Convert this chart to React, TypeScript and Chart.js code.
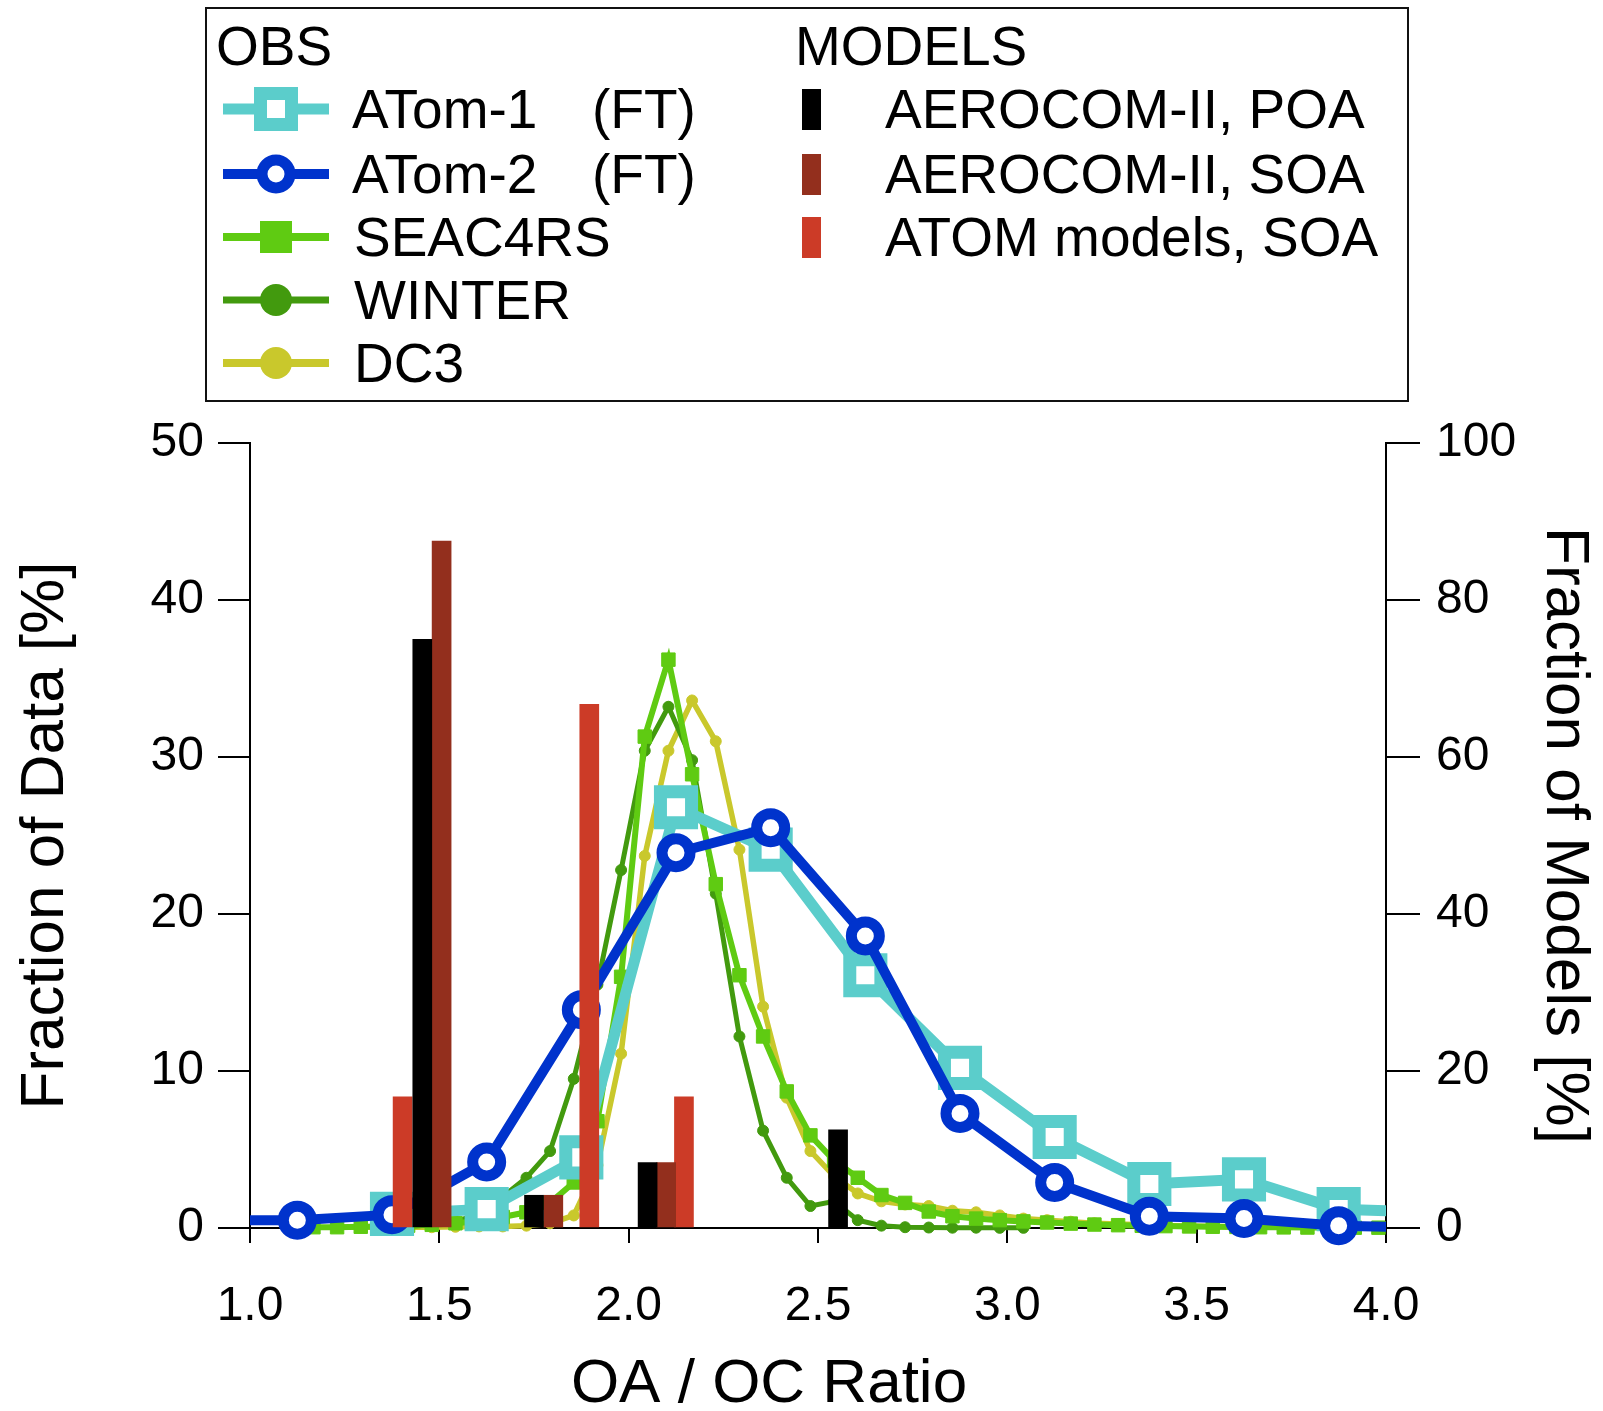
import React, { useEffect, useRef } from "react";
import { Chart, registerables } from "chart.js";

Chart.register(...registerables);

const FONT = '"Liberation Sans", Arial, Helvetica, sans-serif';

// ---- axis tick/label text ----
const X_TITLE = "OA / OC Ratio";
const Y_TITLE = "Fraction of Data [%]";
const Y2_TITLE = "Fraction of Models [%]";

// ---- observations (left axis, % of data) ----
const atom1X = [1.375, 1.625, 1.875, 2.125, 2.375, 2.625, 2.875, 3.125, 3.375, 3.625, 3.875, 4.125];
const atom1Y = [0.9, 1.2, 4.5, 26.8, 24.1, 16.1, 10.2, 5.8, 2.8, 3.1, 1.2, 1.0];

const atom2X = [0.875, 1.125, 1.375, 1.625, 1.875, 2.125, 2.375, 2.625, 2.875, 3.125, 3.375, 3.625, 3.875, 4.125];
const atom2Y = [0.5, 0.5, 0.85, 4.2, 13.9, 23.9, 25.5, 18.6, 7.3, 2.9, 0.75, 0.6, 0.15, 0.0];

const seacX = [1.1675, 1.23, 1.2925, 1.355, 1.4175, 1.48, 1.5425, 1.605, 1.6675, 1.73, 1.7925, 1.855, 1.9175, 1.98, 2.0425, 2.105, 2.1675, 2.23, 2.2925, 2.355, 2.4175, 2.48, 2.5425, 2.605, 2.6675, 2.73, 2.7925, 2.855, 2.9175, 2.98, 3.0425, 3.105, 3.1675, 3.23, 3.2925, 3.355, 3.4175, 3.48, 3.5425, 3.605, 3.6675, 3.73, 3.7925, 3.855, 3.9175, 3.98, 4.0425];
const seacY = [0.05, 0.05, 0.08, 0.1, 0.15, 0.2, 0.3, 0.45, 0.7, 1.0, 1.6, 2.9, 6.8, 16.0, 31.3, 36.2, 28.9, 21.9, 16.1, 12.2, 8.7, 5.9, 4.3, 3.2, 2.1, 1.6, 1.05, 0.75, 0.6, 0.5, 0.42, 0.35, 0.28, 0.22, 0.18, 0.14, 0.12, 0.1, 0.08, 0.07, 0.05, 0.04, 0.03, 0.03, 0.02, 0.02, 0.01];

const winterX = [1.4175, 1.48, 1.5425, 1.605, 1.6675, 1.73, 1.7925, 1.855, 1.9175, 1.98, 2.0425, 2.105, 2.1675, 2.23, 2.2925, 2.355, 2.4175, 2.48, 2.5425, 2.605, 2.6675, 2.73, 2.7925, 2.855, 2.9175, 2.98, 3.0425];
const winterY = [0.1, 0.2, 0.4, 0.9, 2.0, 3.2, 4.9, 9.5, 15.5, 22.8, 30.4, 33.2, 29.8, 21.3, 12.2, 6.2, 3.2, 1.4, 1.7, 0.5, 0.15, 0.05, 0.03, 0.02, 0.02, 0.01, 0.01];

const dc3X = [1.23, 1.2925, 1.355, 1.4175, 1.48, 1.5425, 1.605, 1.6675, 1.73, 1.7925, 1.855, 1.9175, 1.98, 2.0425, 2.105, 2.1675, 2.23, 2.2925, 2.355, 2.4175, 2.48, 2.5425, 2.605, 2.6675, 2.73, 2.7925, 2.855, 2.9175, 2.98, 3.0425, 3.105, 3.1675, 3.23, 3.2925, 3.355, 3.4175, 3.48, 3.5425, 3.605, 3.6675, 3.73, 3.7925, 3.855, 3.9175, 3.98];
const dc3Y = [0.05, 0.05, 0.05, 0.05, 0.05, 0.08, 0.1, 0.1, 0.15, 0.3, 0.8, 4.0, 11.1, 23.7, 30.4, 33.6, 31.0, 24.1, 14.1, 8.3, 4.9, 3.3, 2.2, 1.7, 1.5, 1.4, 1.1, 1.0, 0.8, 0.6, 0.5, 0.4, 0.3, 0.25, 0.2, 0.15, 0.12, 0.1, 0.08, 0.06, 0.05, 0.04, 0.03, 0.02, 0.02];

// ---- models (right axis, % of models) ----
const poaX = [1.455, 1.75, 2.05, 2.553];
const poaY = [75, 4.17, 8.33, 12.5];
const aeroSoaX = [1.506, 1.801, 2.099];
const aeroSoaY = [87.5, 4.17, 8.33];
const atomSoaX = [1.403, 1.896, 2.146];
const atomSoaY = [16.7, 66.7, 16.7];

// ---- colours ----
const C_ATOM1 = "#5BCDCB";
const C_ATOM2 = "#0033CC";
const C_SEAC = "#5FCB12";
const C_WINTER = "#429A0E";
const C_DC3 = "#C9C82C";
const C_POA = "#000000";
const C_AEROSOA = "#932F1D";
const C_ATOMSOA = "#CC3B27";

const pts = (xs: number[], ys: number[]) => xs.map((x, i) => ({ x, y: ys[i] }));

const LINE_CLIP = { left: 0, right: 0, top: 0, bottom: 20 };

const xTitlePlugin = {
  id: "xTitleCustom",
  afterDraw(chart: any) {
    const { ctx, chartArea } = chart;
    ctx.save();
    ctx.font = `62px ${FONT}`;
    ctx.fillStyle = "#000";
    ctx.textAlign = "center";
    ctx.textBaseline = "middle";
    ctx.fillText(X_TITLE, (chartArea.left + chartArea.right) / 2 - 49, 1385);
    ctx.restore();
  },
};

function LegendText({ x, yc, text }: { x: number; yc: number; text: string }) {
  return (
    <div
      style={{
        position: "absolute",
        left: x,
        top: yc - 27,
        fontSize: 55,
        lineHeight: "55px",
        whiteSpace: "nowrap",
        color: "#000",
        fontFamily: FONT,
      }}
    >
      {text}
    </div>
  );
}

function ObsSymbol({ yc, kind }: { yc: number; kind: string }) {
  const w = 106;
  const h = 50;
  const cx = 53;
  const cy = 25;
  let color = C_ATOM1;
  let lw = 11;
  let marker: any = null;
  if (kind === "atom1") {
    color = C_ATOM1;
    lw = 11;
    marker = <rect x={cx - 15.5} y={cy - 15.5} width={31} height={31} fill="#fff" stroke={C_ATOM1} strokeWidth={13} />;
  } else if (kind === "atom2") {
    color = C_ATOM2;
    lw = 10;
    marker = <circle cx={cx} cy={cy} r={14} fill="#fff" stroke={C_ATOM2} strokeWidth={11} />;
  } else if (kind === "seac") {
    color = C_SEAC;
    lw = 8;
    marker = <rect x={cx - 16} y={cy - 16} width={32} height={32} fill={C_SEAC} />;
  } else if (kind === "winter") {
    color = C_WINTER;
    lw = 7;
    marker = <circle cx={cx} cy={cy} r={16} fill={C_WINTER} />;
  } else {
    color = C_DC3;
    lw = 8;
    marker = <circle cx={cx} cy={cy} r={16} fill={C_DC3} />;
  }
  return (
    <svg
      width={w}
      height={h}
      style={{ position: "absolute", left: 223, top: yc - cy, overflow: "visible" }}
    >
      <line x1={0} y1={cy} x2={w} y2={cy} stroke={color} strokeWidth={lw} />
      {marker}
    </svg>
  );
}

function ModelSymbol({ yc, color }: { yc: number; color: string }) {
  return (
    <div
      style={{
        position: "absolute",
        left: 802,
        top: yc - 20.5,
        width: 19,
        height: 41,
        background: color,
      }}
    />
  );
}

function Legend() {
  const rows = [109, 174, 237, 300, 363];
  return (
    <>
      <div
        style={{
          position: "absolute",
          left: 205,
          top: 7,
          width: 1204,
          height: 395,
          border: "2px solid #111",
          boxSizing: "border-box",
          background: "#fff",
        }}
      />
      <LegendText x={216} yc={46} text="OBS" />
      <LegendText x={795} yc={46} text="MODELS" />

      <ObsSymbol yc={rows[0]} kind="atom1" />
      <LegendText x={352} yc={rows[0]} text="ATom-1" />
      <LegendText x={592} yc={rows[0]} text="(FT)" />

      <ObsSymbol yc={rows[1]} kind="atom2" />
      <LegendText x={352} yc={rows[1]} text="ATom-2" />
      <LegendText x={592} yc={rows[1]} text="(FT)" />

      <ObsSymbol yc={rows[2]} kind="seac" />
      <LegendText x={354} yc={rows[2]} text="SEAC4RS" />

      <ObsSymbol yc={rows[3]} kind="winter" />
      <LegendText x={354} yc={rows[3]} text="WINTER" />

      <ObsSymbol yc={rows[4]} kind="dc3" />
      <LegendText x={354} yc={rows[4]} text="DC3" />

      <ModelSymbol yc={rows[0]} color={C_POA} />
      <LegendText x={885} yc={rows[0]} text="AEROCOM-II, POA" />
      <ModelSymbol yc={rows[1]} color={C_AEROSOA} />
      <LegendText x={885} yc={rows[1]} text="AEROCOM-II, SOA" />
      <ModelSymbol yc={rows[2]} color={C_ATOMSOA} />
      <LegendText x={885} yc={rows[2]} text="ATOM models, SOA" />
    </>
  );
}

export default function App() {
  const ref = useRef<HTMLCanvasElement | null>(null);

  useEffect(() => {
    if (!ref.current) return;
    const barCommon = {
      type: "bar" as const,
      yAxisID: "y2",
      xAxisID: "x",
      barThickness: 19,
      grouped: false,
      borderWidth: 0,
      order: 0,
    };
    const chart = new Chart(ref.current, {
      type: "line",
      data: {
        datasets: [
          { ...barCommon, label: "AEROCOM-II, POA", data: pts(poaX, poaY), backgroundColor: C_POA },
          { ...barCommon, label: "AEROCOM-II, SOA", data: pts(aeroSoaX, aeroSoaY), backgroundColor: C_AEROSOA },
          { ...barCommon, label: "ATOM models, SOA", data: pts(atomSoaX, atomSoaY), backgroundColor: C_ATOMSOA },
          {
            type: "line",
            label: "ATom-2 (FT)",
            data: pts(atom2X, atom2Y),
            yAxisID: "y",
            borderColor: C_ATOM2,
            borderWidth: 10,
            pointStyle: "circle",
            pointRadius: 14,
            pointBorderWidth: 11,
            pointBackgroundColor: "#fff",
            pointBorderColor: C_ATOM2,
            tension: 0,
            clip: LINE_CLIP,
            order: 1,
          },
          {
            type: "line",
            label: "ATom-1 (FT)",
            data: pts(atom1X, atom1Y),
            yAxisID: "y",
            borderColor: C_ATOM1,
            borderWidth: 11,
            pointStyle: "rect",
            pointRadius: 22,
            pointBorderWidth: 13,
            pointBackgroundColor: "#fff",
            pointBorderColor: C_ATOM1,
            tension: 0,
            clip: LINE_CLIP,
            order: 2,
          },
          {
            type: "line",
            label: "SEAC4RS",
            data: pts(seacX, seacY),
            yAxisID: "y",
            borderColor: C_SEAC,
            borderWidth: 6,
            pointStyle: "rect",
            pointRadius: 9.5,
            pointBorderWidth: 1,
            pointBackgroundColor: C_SEAC,
            pointBorderColor: C_SEAC,
            tension: 0,
            clip: LINE_CLIP,
            order: 3,
          },
          {
            type: "line",
            label: "WINTER",
            data: pts(winterX, winterY),
            yAxisID: "y",
            borderColor: C_WINTER,
            borderWidth: 5,
            pointStyle: "circle",
            pointRadius: 5.5,
            pointBorderWidth: 1,
            pointBackgroundColor: C_WINTER,
            pointBorderColor: C_WINTER,
            tension: 0,
            clip: LINE_CLIP,
            order: 4,
          },
          {
            type: "line",
            label: "DC3",
            data: pts(dc3X, dc3Y),
            yAxisID: "y",
            borderColor: C_DC3,
            borderWidth: 5.5,
            pointStyle: "circle",
            pointRadius: 5.5,
            pointBorderWidth: 1,
            pointBackgroundColor: C_DC3,
            pointBorderColor: C_DC3,
            tension: 0,
            clip: LINE_CLIP,
            order: 5,
          },
        ] as any,
      },
      options: {
        responsive: false,
        animation: false,
        events: [],
        layout: { padding: { top: 443, left: 0, right: 0, bottom: 0 } },
        plugins: {
          legend: { display: false },
          tooltip: { enabled: false },
        },
        scales: {
          x: {
            type: "linear",
            position: "bottom",
            min: 1,
            max: 4,
            offset: false,
            afterFit: (s: any) => {
              s.height = 183;
            },
            grid: {
              offset: false,
              drawOnChartArea: false,
              drawTicks: true,
              tickLength: 15,
              color: "#000",
              lineWidth: 2,
            },
            border: { display: true, color: "#000", width: 2 },
            ticks: {
              stepSize: 0.5,
              autoSkip: false,
              maxRotation: 0,
              padding: 35,
              color: "#000",
              font: { family: FONT, size: 48 },
              callback: (v: any) => Number(v).toFixed(1),
            },
          },
          y: {
            type: "linear",
            position: "left",
            min: 0,
            max: 50,
            afterFit: (s: any) => {
              s.width = 250;
            },
            grid: {
              drawOnChartArea: false,
              drawTicks: true,
              tickLength: 32,
              color: "#000",
              lineWidth: 2,
            },
            border: { display: true, color: "#000", width: 2 },
            ticks: {
              stepSize: 10,
              padding: 14,
              color: "#000",
              font: { family: FONT, size: 48 },
            },
            title: {
              display: true,
              text: Y_TITLE,
              color: "#000",
              font: { family: FONT, size: 62 },
              padding: { top: 9, bottom: 0 },
            },
          },
          y2: {
            type: "linear",
            position: "right",
            min: 0,
            max: 100,
            beginAtZero: true,
            afterFit: (s: any) => {
              s.width = 217;
            },
            grid: {
              drawOnChartArea: false,
              drawTicks: true,
              tickLength: 34,
              color: "#000",
              lineWidth: 2,
            },
            border: { display: true, color: "#000", width: 2 },
            ticks: {
              stepSize: 20,
              padding: 16,
              color: "#000",
              font: { family: FONT, size: 48 },
            },
            title: {
              display: true,
              text: Y2_TITLE,
              color: "#000",
              font: { family: FONT, size: 62 },
              padding: { top: 2, bottom: 0 },
            },
          },
        },
      } as any,
      plugins: [xTitlePlugin],
    });
    return () => chart.destroy();
  }, []);

  return (
    <div
      style={{
        position: "absolute",
        left: 0,
        top: 0,
        width: 1603,
        height: 1411,
        overflow: "hidden",
        background: "#fff",
        fontFamily: FONT,
      }}
    >
      <canvas
        ref={ref}
        width={1603}
        height={1411}
        style={{ position: "absolute", left: 0, top: 0, width: 1603, height: 1411 }}
      />
      <Legend />
    </div>
  );
}
